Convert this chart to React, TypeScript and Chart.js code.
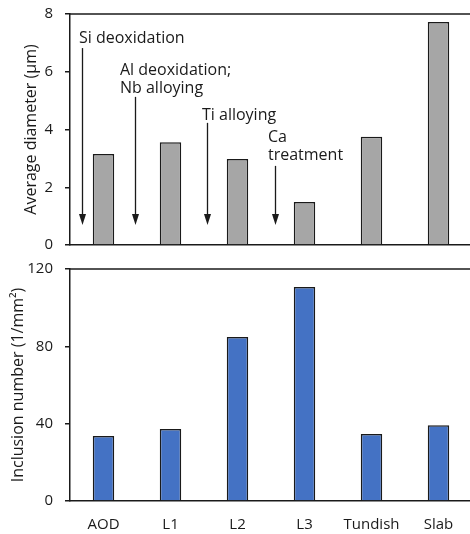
import React, { useEffect, useRef } from "react";
import { Chart, registerables } from "chart.js";

Chart.register(...registerables);

const categories = ["AOD", "L1", "L2", "L3", "Tundish", "Slab"];
const avgDiameter = [3.15, 3.56, 2.98, 1.49, 3.75, 7.72];
const inclusionNumber = [33.6, 37.2, 84.8, 110.7, 34.7, 39.2];
const diameterTicks = [0, 2, 4, 6, 8];
const numberTicks = [0, 40, 80, 120];

const annotationText = [["Si deoxidation"], ["Al deoxidation;", "Nb alloying"], ["Ti alloying"], ["Ca", "treatment"]];
const arrowX = [-0.32, 0.47, 1.545, 2.56];
const arrowTop = [6.82, 5.13, 4.23, 2.74];
const arrowBottom = [0.69, 0.69, 0.69, 0.69];
const textX = [-0.366, 0.246, 1.47, 2.455];
const textY = [7.17, 6.06, 4.5, 3.71];

const FONT = "'Open Sans', 'Noto Sans', sans-serif";
const TEXT = "#1a1a1a";

const topBorder = {
  id: "topBorder",
  afterDraw(chart: any) {
    const { ctx, chartArea } = chart;
    ctx.save();
    ctx.strokeStyle = TEXT;
    ctx.lineWidth = 1.5;
    ctx.beginPath();
    ctx.moveTo(chartArea.left, chartArea.top);
    ctx.lineTo(chartArea.right + 5, chartArea.top);
    ctx.stroke();
    ctx.restore();
  },
};

const arrows = {
  id: "arrows",
  afterDraw(chart: any) {
    const { ctx } = chart;
    const xs = chart.scales.x;
    const ys = chart.scales.y;
    ctx.save();
    ctx.fillStyle = TEXT;
    ctx.strokeStyle = TEXT;
    ctx.font = `16px ${FONT}`;
    ctx.textBaseline = "middle";
    ctx.textAlign = "left";
    annotationText.forEach((lines, i) => {
      const tx = xs.getPixelForValue(textX[i]);
      const ty = ys.getPixelForValue(textY[i]);
      lines.forEach((l, j) => ctx.fillText(l, tx, ty + j * 18));
      const ax = Math.round(xs.getPixelForValue(arrowX[i])) + 0.5;
      const a0 = ys.getPixelForValue(arrowTop[i]);
      const a1 = ys.getPixelForValue(arrowBottom[i]);
      ctx.lineWidth = 1.3;
      ctx.beginPath();
      ctx.moveTo(ax, a0);
      ctx.lineTo(ax, a1 - 6);
      ctx.stroke();
      ctx.beginPath();
      ctx.moveTo(ax - 3.5, a1 - 11);
      ctx.lineTo(ax + 3.5, a1 - 11);
      ctx.lineTo(ax, a1);
      ctx.closePath();
      ctx.fill();
    });
    ctx.restore();
  },
};

function makeOptions(opts: any) {
  return {
    responsive: false,
    animation: false,
    devicePixelRatio: 1,
    layout: { padding: { top: 14, left: 0, right: 0, bottom: 0 } },
    plugins: { legend: { display: false }, tooltip: { enabled: false } },
    scales: {
      x: {
        type: "category",
        offset: true,
        grid: { display: false, drawTicks: false },
        border: { display: true, color: TEXT, width: 1.5 },
        ticks: {
          display: opts.showX,
          color: TEXT,
          font: { family: FONT, size: 15 },
          padding: 15,
          maxRotation: 0,
          autoSkip: false,
        },
        afterFit: (s: any) => {
          s.height = opts.xHeight;
          s.paddingLeft = 0;
          s.paddingRight = 0;
          s.paddingTop = 0;
          s.paddingBottom = 0;
        },
      },
      y: {
        min: 0,
        max: opts.max,
        afterBuildTicks: (s: any) => {
          s.ticks = opts.ticks.map((v: number) => ({ value: v }));
        },
        grid: { display: true, drawOnChartArea: false, drawTicks: true, tickLength: 5, color: TEXT, lineWidth: 1.5 },
        border: { display: true, color: TEXT, width: 1.5 },
        ticks: { color: TEXT, font: { family: FONT, size: 15 }, padding: 12 },
        title: {
          display: true,
          text: opts.title,
          color: TEXT,
          font: { family: FONT, size: 16 },
          padding: { top: opts.titlePad, bottom: 0 },
        },
        afterFit: (s: any) => {
          s.width = 70;
          s.paddingTop = 0;
          s.paddingBottom = 0;
          s.paddingLeft = 0;
          s.paddingRight = 0;
        },
      },
    },
  };
}

export default function App() {
  const topRef = useRef<HTMLCanvasElement>(null);
  const botRef = useRef<HTMLCanvasElement>(null);

  useEffect(() => {
    const c1 = new Chart(topRef.current!, {
      type: "bar",
      data: {
        labels: categories,
        datasets: [
          {
            data: avgDiameter,
            backgroundColor: "#a6a6a6",
            borderColor: TEXT,
            borderWidth: 1.5,
            categoryPercentage: 1,
            barPercentage: 0.32,
          },
        ],
      },
      options: makeOptions({ showX: false, xHeight: 10, max: 8, ticks: diameterTicks, title: "Average diameter (μm)", titlePad: 21.4 }) as any,
      plugins: [topBorder, arrows],
    });
    const c2 = new Chart(botRef.current!, {
      type: "bar",
      data: {
        labels: categories,
        datasets: [
          {
            data: inclusionNumber,
            backgroundColor: "#4472c4",
            borderColor: TEXT,
            borderWidth: 1.5,
            categoryPercentage: 1,
            barPercentage: 0.32,
          },
        ],
      },
      options: makeOptions({ showX: true, xHeight: 33, max: 120, ticks: numberTicks, title: "Inclusion number (1/mm²)", titlePad: 8.9 }) as any,
      plugins: [topBorder],
    });
    return () => {
      c1.destroy();
      c2.destroy();
    };
  }, []);

  return (
    <div style={{ position: "absolute", left: 0, top: 0, width: 470, height: 534, overflow: "hidden", background: "#fff" }}>
      <canvas ref={topRef} width={472} height={255} style={{ position: "absolute", left: 0, top: 0, display: "block" }} />
      <canvas ref={botRef} width={472} height={279} style={{ position: "absolute", left: 0, top: 255, display: "block" }} />
    </div>
  );
}
